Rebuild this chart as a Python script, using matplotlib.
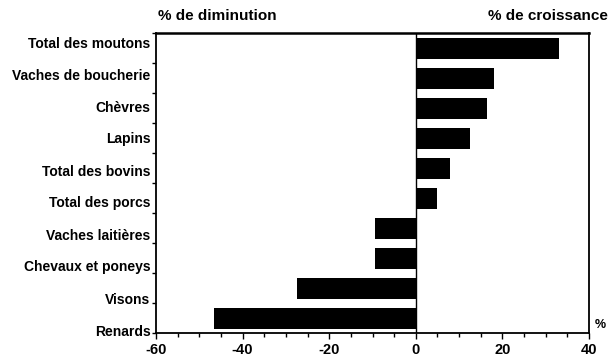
import matplotlib
matplotlib.use("Agg")
import matplotlib.pyplot as plt
import numpy as np

plt.rcParams['font.family'] = ['Liberation Sans', 'DejaVu Sans']
plt.rcParams['font.weight'] = 'bold'

# data
categories = ['Total des moutons', 'Vaches de boucherie', 'Chèvres', 'Lapins',
              'Total des bovins', 'Total des porcs', 'Vaches laitières',
              'Chevaux et poneys', 'Visons', 'Renards']
values = [33, 18, 16.5, 12.5, 8, 5, -9.5, -9.5, -27.5, -46.5]
xticks = [-60, -40, -20, 0, 20, 40]

fig = plt.figure(figsize=(6.09, 3.58), dpi=100)
ax = fig.add_axes([156/609, 1-333/358, (589-156)/609, 300/358])

n = len(categories)
y = np.arange(n)
ax.barh(y, values, height=0.7, color='black')
ax.axvline(0, color='black', lw=1)

ax.set_xlim(-60, 40)
ax.set_ylim(n-0.5, -0.5)
ax.set_xticks(xticks)
ax.set_xticklabels([str(t) for t in xticks])
ax.set_xticks(np.arange(-60, 41, 5), minor=True)
# labels in the scan drift a little from the bar centres
ax.set_yticks(np.linspace(-0.2, n - 0.6, n))
ax.set_yticklabels(categories)
ax.set_yticks(np.arange(-0.5, n, 1), minor=True)
ax.tick_params(axis='y', which='major', length=0, pad=4, labelsize=10)
ax.tick_params(axis='y', which='minor', length=3, width=1, direction='out')
ax.tick_params(axis='x', which='major', length=4, width=1, labelsize=10.5, pad=3)
ax.tick_params(axis='x', which='minor', length=3, width=1)
for s in ax.spines.values():
    s.set_linewidth(1.3)
ax.spines['top'].set_linewidth(1.8)

fig.text(217/609, 1-16/358, '% de diminution', ha='center', va='center', fontsize=11)
fig.text(608/609, 1-16/358, '% de croissance', ha='right', va='center', fontsize=11)
fig.text(595/609, 1-325/358, '%', ha='left', va='center', fontsize=9)

fig.savefig('out.png', dpi=100)
